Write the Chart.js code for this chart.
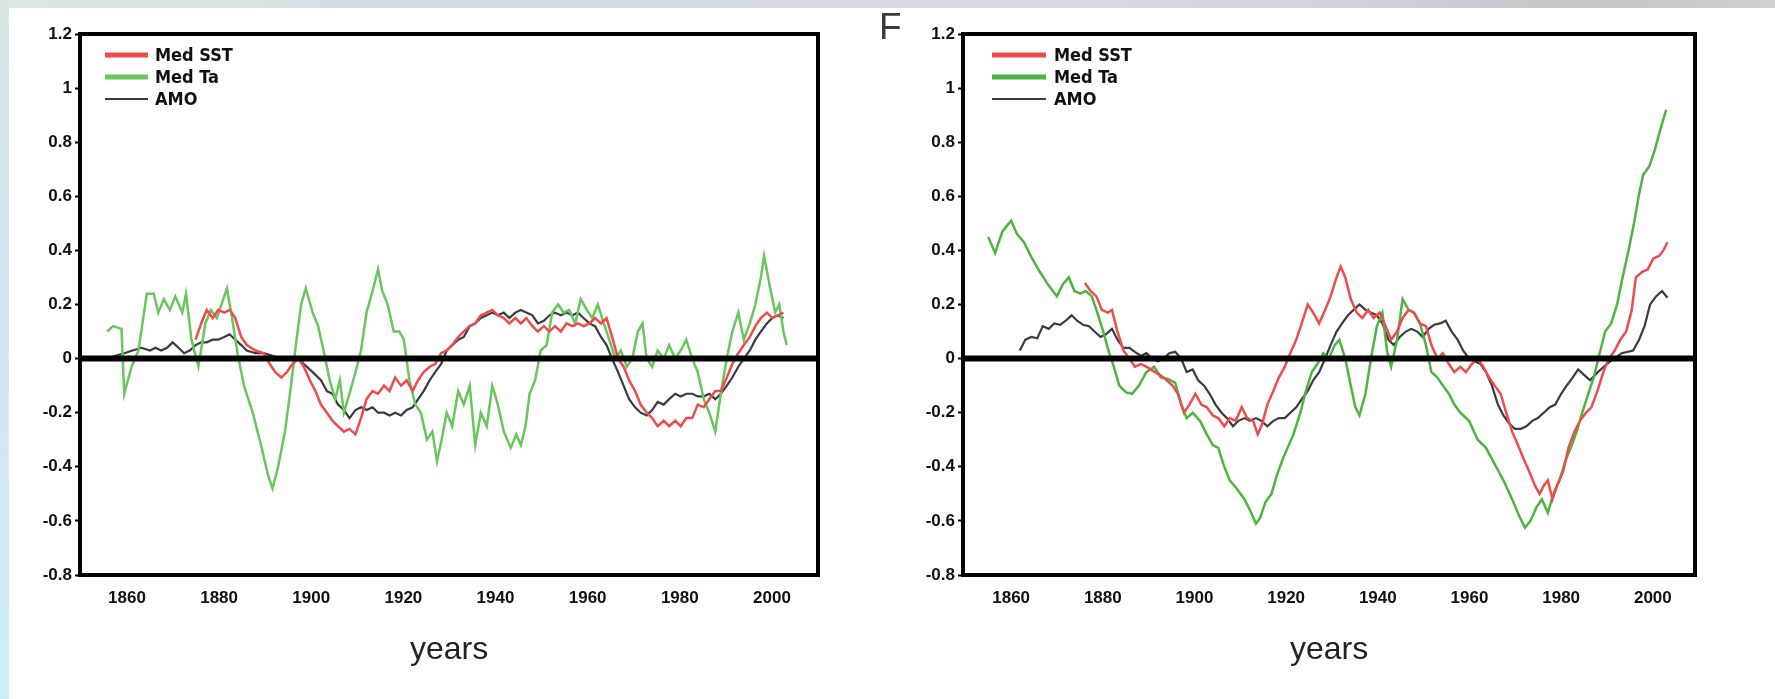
<!DOCTYPE html>
<html>
<head>
<meta charset="utf-8">
<script src="https://cdn.jsdelivr.net/npm/chart.js@4.4.1/dist/chart.umd.min.js"></script>
<style>
  html, body { margin: 0; padding: 0; background: #ffffff; }
  body { width: 1775px; height: 699px; position: relative; overflow: hidden; }
  #topband { position: absolute; left: 0; top: 0; width: 1775px; height: 8px;
    background: linear-gradient(to right, #dde8de 0%, #d3dbe6 25%, #d8dce8 55%, #cfd3dc 75%, #c3c7cb 90%, #cdd1d6 100%); }
  #leftband { position: absolute; left: 0; top: 0; width: 9px; height: 699px;
    background: linear-gradient(to bottom, #d9e7e4 0%, #d3e6ef 40%, #cdedf5 100%); }
  .wrap { position: absolute; top: 0; height: 699px; }
  #w1 { left: 0; width: 887px; }
  #w2 { left: 887px; width: 888px; }
  #flabel { position: absolute; left: 879px; top: 8px; font-family: "Liberation Sans", Arial, sans-serif;
    font-size: 37px; line-height: 1; color: #3a3a3a; }
</style>
</head>
<body>
<div id="topband"></div>
<div id="leftband"></div>
<div class="wrap" id="w1"><canvas id="c1" width="887" height="699"></canvas></div>
<div class="wrap" id="w2"><canvas id="c2" width="888" height="699"></canvas></div>
<div id="flabel">F</div>
<script>
// ---------------- DATA ----------------
const seriesLabels = ['Med SST', 'Med Ta', 'AMO'];
const xTickYears = [1860, 1880, 1900, 1920, 1940, 1960, 1980, 2000];
const yTickValues = [-0.8, -0.6, -0.4, -0.2, 0, 0.2, 0.4, 0.6, 0.8, 1, 1.2];
const yTickLabels = ['-0.8', '-0.6', '-0.4', '-0.2', '0', '0.2', '0.4', '0.6', '0.8', '1', '1.2'];

// Left panel
const leftSstYears = [1874.9,1876.1,1877.3,1878.6,1879.8,1881.1,1882.3,1883.5,1884.8,1886,1887.9,1889.7,1891,1892.2,1893.5,1894.7,1895.9,1897.2,1898.4,1899.7,1900.9,1902.1,1903.4,1904.6,1905.8,1907.1,1908.3,1909.6,1910.8,1912,1913.3,1914.5,1915.8,1917,1918.2,1919.5,1920.7,1922,1923.2,1924.4,1925.7,1926.9,1928.2,1929.4,1930.6,1931.9,1933.1,1934.4,1935.6,1936.8,1938.1,1939.3,1940.5,1941.8,1943,1944.3,1945.5,1946.7,1948,1949.2,1950.5,1951.7,1952.9,1954.2,1955.4,1956.7,1957.9,1959.1,1960.4,1961.6,1962.9,1964.1,1965.3,1966.6,1967.8,1969,1970.3,1971.5,1972.8,1974,1975.2,1976.5,1977.7,1979,1980.2,1981.4,1982.7,1983.9,1985.2,1986.4,1987.7,1988.9,1990.2,1991.4,1992.7,1993.9,1995.2,1996.4,1997.6,1998.9,2000.1,2001.3,2002.5];
const leftSstValues = [0.07,0.13,0.18,0.15,0.18,0.17,0.18,0.15,0.08,0.05,0.03,0.02,-0.02,-0.05,-0.07,-0.05,-0.02,0.00,-0.03,-0.08,-0.12,-0.17,-0.20,-0.23,-0.25,-0.27,-0.26,-0.28,-0.22,-0.15,-0.12,-0.13,-0.10,-0.12,-0.07,-0.10,-0.08,-0.12,-0.08,-0.05,-0.03,-0.02,0.02,0.03,0.05,0.08,0.10,0.12,0.13,0.16,0.17,0.18,0.16,0.15,0.13,0.15,0.13,0.15,0.12,0.10,0.12,0.10,0.12,0.10,0.13,0.12,0.13,0.12,0.13,0.15,0.13,0.15,0.08,0.00,-0.03,-0.08,-0.12,-0.17,-0.20,-0.22,-0.25,-0.23,-0.25,-0.23,-0.25,-0.22,-0.22,-0.17,-0.18,-0.15,-0.12,-0.12,-0.07,-0.02,0.02,0.05,0.08,0.12,0.15,0.17,0.15,0.16,0.17];

const leftTaYears = [1855.7,1857,1858.8,1859.4,1861,1862.5,1864.3,1865.8,1866.8,1868,1869.3,1870.5,1872,1872.8,1874,1875.5,1877,1878.2,1879.5,1880.7,1881.7,1883,1884,1885.4,1887.3,1889.1,1890.6,1891.6,1892.8,1894.3,1895.6,1896.8,1897.8,1898.8,1900.3,1901.5,1902.8,1904,1905.2,1906.2,1907.1,1908.3,1909.6,1910.8,1912,1913.3,1914.5,1915.4,1916.6,1917.9,1919.1,1920.1,1921.3,1922.6,1923.8,1925.1,1926.3,1927.3,1928.3,1929.4,1930.6,1931.9,1933.1,1934.4,1935.6,1936.8,1938.1,1939.3,1940.5,1941.8,1943.3,1944.5,1945.5,1946.5,1947.4,1948.6,1949.8,1951.1,1952.3,1953.6,1954.8,1956,1957.3,1958.5,1959.8,1961,1962.2,1963.5,1964.7,1966,1967.2,1968.5,1969.7,1970.9,1971.9,1972.8,1974,1975.2,1976.5,1977.7,1979,1980.2,1981.4,1982.7,1983.9,1985.2,1986.4,1987.7,1988.9,1990.2,1991.4,1992.7,1993.9,1995.2,1996.4,1997.6,1998.3,1999.5,2000.7,2001.6,2002.5,2003.2];
const leftTaValues = [0.10,0.12,0.11,-0.13,-0.03,0.03,0.24,0.24,0.17,0.22,0.18,0.23,0.17,0.24,0.07,-0.03,0.13,0.18,0.15,0.21,0.26,0.13,0.02,-0.10,-0.20,-0.32,-0.43,-0.48,-0.40,-0.27,-0.10,0.07,0.20,0.26,0.17,0.12,0.02,-0.08,-0.15,-0.08,-0.20,-0.13,-0.05,0.03,0.17,0.25,0.33,0.25,0.20,0.10,0.10,0.07,-0.08,-0.17,-0.20,-0.30,-0.27,-0.38,-0.30,-0.20,-0.25,-0.12,-0.17,-0.10,-0.32,-0.20,-0.25,-0.10,-0.17,-0.27,-0.33,-0.28,-0.32,-0.25,-0.13,-0.08,0.03,0.05,0.17,0.20,0.17,0.18,0.13,0.22,0.18,0.15,0.20,0.13,0.07,0.00,0.03,-0.03,0.00,0.10,0.13,0.00,-0.03,0.03,0.00,0.05,0.00,0.03,0.07,0.00,-0.05,-0.15,-0.20,-0.27,-0.13,0.00,0.10,0.17,0.07,0.13,0.20,0.30,0.38,0.27,0.17,0.20,0.10,0.05];

const leftAmoYears = [1855.7,1857.5,1859.4,1861.2,1863.1,1865,1866.2,1867.4,1868.7,1869.9,1871.2,1872.4,1873.6,1874.9,1876.1,1877.3,1878.6,1879.8,1881.1,1882.3,1883.5,1884.8,1886,1887.9,1889.7,1891.6,1893.5,1895.3,1897.2,1898.4,1900.3,1902.1,1903.4,1904.6,1905.8,1907.1,1908.3,1909.6,1910.8,1912,1913.3,1914.5,1915.8,1917,1918.2,1919.5,1920.7,1922,1923.2,1924.4,1925.7,1926.9,1928.2,1929.4,1930.6,1931.9,1933.1,1934.4,1935.6,1936.8,1938.1,1939.3,1940.5,1941.8,1943,1944.3,1945.5,1946.7,1948,1949.2,1950.5,1951.7,1952.9,1954.2,1955.4,1956.7,1957.9,1959.1,1960.4,1961.6,1962.9,1964.1,1965.3,1966.6,1967.8,1969,1970.3,1971.5,1972.8,1974,1975.2,1976.5,1977.7,1979,1980.2,1981.4,1982.7,1983.9,1985.2,1986.4,1987.7,1988.9,1990.2,1991.4,1992.7,1993.9,1995.2,1996.4,1997.6,1998.9,2000.1,2001.3,2002.5];
const leftAmoValues = [0.00,0.01,0.02,0.03,0.04,0.03,0.04,0.03,0.04,0.06,0.04,0.02,0.03,0.05,0.06,0.06,0.07,0.07,0.08,0.09,0.07,0.05,0.03,0.02,0.02,0.01,0.00,0.00,0.00,-0.02,-0.05,-0.08,-0.12,-0.13,-0.17,-0.19,-0.22,-0.19,-0.18,-0.19,-0.18,-0.20,-0.20,-0.21,-0.20,-0.21,-0.19,-0.18,-0.15,-0.12,-0.08,-0.05,-0.02,0.03,0.05,0.07,0.08,0.12,0.13,0.15,0.16,0.17,0.16,0.17,0.15,0.17,0.18,0.17,0.16,0.13,0.14,0.16,0.17,0.16,0.17,0.16,0.17,0.15,0.13,0.12,0.08,0.05,0.00,-0.05,-0.10,-0.15,-0.18,-0.20,-0.21,-0.19,-0.16,-0.17,-0.15,-0.13,-0.14,-0.13,-0.13,-0.14,-0.14,-0.13,-0.15,-0.13,-0.10,-0.07,-0.03,0.00,0.03,0.07,0.10,0.13,0.15,0.16,0.15];

// Right panel
const rightSstYears = [1876.1,1877.3,1878.6,1879.8,1881.1,1882,1883.2,1884.5,1885.8,1887,1888.3,1889.5,1891.4,1893.3,1895.2,1896.4,1897.7,1898.9,1900.2,1901.5,1902.7,1904,1905.2,1906.5,1907.7,1909,1910.3,1911.5,1912.8,1913.8,1914.8,1915.9,1917.2,1918.4,1919.7,1920.9,1922.2,1923.4,1924.7,1925.9,1927.2,1928.5,1929.7,1931,1931.9,1932.9,1934.1,1935.4,1936.6,1937.9,1939.1,1940.4,1941.7,1942.9,1944.2,1945.4,1946.7,1947.9,1949.2,1950.5,1951.7,1953,1954.2,1955.5,1956.7,1958,1959.2,1960.5,1961.8,1963,1964.3,1965.5,1966.8,1968,1969.3,1970.6,1971.8,1973.1,1974.3,1975.3,1976.2,1977.1,1978.1,1979.1,1980.4,1981.6,1982.9,1984.1,1985.4,1986.6,1987.9,1989.2,1990.4,1991.7,1992.9,1994.2,1995.4,1996.3,1997.6,1998.9,2000.1,2001.4,2002.3,2003.2];
const rightSstValues = [0.28,0.25,0.23,0.18,0.17,0.18,0.10,0.03,0.00,-0.03,-0.02,-0.03,-0.05,-0.07,-0.10,-0.13,-0.20,-0.17,-0.13,-0.17,-0.18,-0.21,-0.22,-0.25,-0.22,-0.23,-0.18,-0.22,-0.23,-0.28,-0.24,-0.17,-0.12,-0.07,-0.03,0.02,0.07,0.13,0.20,0.17,0.13,0.18,0.23,0.30,0.34,0.30,0.22,0.17,0.15,0.18,0.15,0.17,0.12,0.07,0.10,0.15,0.18,0.17,0.13,0.12,0.05,0.00,0.02,-0.02,-0.05,-0.03,-0.05,-0.02,0.00,-0.03,-0.07,-0.10,-0.13,-0.20,-0.27,-0.32,-0.37,-0.42,-0.47,-0.50,-0.47,-0.45,-0.52,-0.47,-0.42,-0.33,-0.27,-0.23,-0.20,-0.18,-0.12,-0.05,0.00,0.03,0.07,0.10,0.18,0.30,0.32,0.33,0.37,0.38,0.40,0.43];

const rightTaYears = [1855,1856.5,1858.1,1860,1861.3,1862.8,1864.4,1866.3,1868.2,1870,1871.3,1872.6,1873.8,1875.1,1876.3,1877.6,1878.8,1880.1,1881.4,1882.4,1883.6,1885.1,1886.4,1887.9,1889.5,1891.2,1892.7,1894.2,1895.8,1897.1,1898.3,1899.6,1901.2,1902.7,1904,1905.2,1906.5,1907.7,1909.2,1910.9,1912.1,1913.4,1914.3,1915.5,1916.8,1918,1919.3,1920.3,1921.6,1923.1,1924.3,1925.6,1926.8,1928.1,1929.3,1930.6,1931.6,1932.9,1934.1,1935.1,1936,1937.3,1938.5,1939.8,1941,1942,1942.9,1944.2,1945.4,1946.7,1947.9,1949.2,1950.5,1951.7,1953,1954.2,1955.5,1956.7,1958,1959.9,1961.8,1963.6,1965.5,1967.4,1969.3,1970.8,1972.1,1973.3,1974.6,1975.8,1977.1,1978.3,1979.6,1980.9,1982.1,1983.4,1984.6,1985.9,1987.1,1988.4,1989.6,1990.9,1992.2,1993.4,1994.7,1995.9,1996.9,1997.9,1999.2,2000.4,2001.7,2002.9];
const rightTaValues = [0.45,0.39,0.47,0.51,0.46,0.43,0.375,0.32,0.27,0.23,0.275,0.30,0.25,0.24,0.25,0.23,0.17,0.10,0.02,-0.03,-0.10,-0.125,-0.13,-0.10,-0.05,-0.03,-0.07,-0.075,-0.09,-0.17,-0.22,-0.20,-0.23,-0.28,-0.32,-0.33,-0.40,-0.45,-0.48,-0.52,-0.56,-0.61,-0.59,-0.53,-0.50,-0.43,-0.37,-0.33,-0.28,-0.20,-0.12,-0.05,-0.02,0.02,0.00,0.05,0.07,0.00,-0.10,-0.18,-0.21,-0.13,0.00,0.12,0.17,0.03,-0.03,0.07,0.22,0.18,0.17,0.13,0.05,-0.05,-0.07,-0.10,-0.13,-0.17,-0.20,-0.23,-0.30,-0.33,-0.39,-0.45,-0.52,-0.58,-0.625,-0.60,-0.55,-0.52,-0.57,-0.50,-0.45,-0.38,-0.33,-0.27,-0.20,-0.13,-0.07,0.02,0.10,0.13,0.20,0.30,0.40,0.50,0.60,0.68,0.71,0.77,0.85,0.92];

const rightAmoYears = [1861.9,1863.1,1864.4,1865.7,1866.9,1868.2,1869.4,1870.7,1871.9,1873.2,1874.4,1875.7,1877,1878.2,1879.5,1880.7,1882,1883.2,1884.5,1885.8,1887,1888.3,1889.5,1890.8,1892,1893.3,1894.5,1895.8,1897.1,1898.3,1899.6,1900.8,1902.1,1903.3,1904.6,1905.9,1907.1,1908.4,1909.6,1910.9,1912.1,1913.4,1914.6,1915.9,1917.2,1918.4,1919.7,1920.9,1922.2,1923.4,1924.7,1925.9,1927.2,1928.5,1929.7,1931,1932.2,1933.5,1934.7,1936,1937.3,1938.5,1939.8,1941,1942.3,1943.5,1944.8,1946.1,1947.3,1948.6,1949.8,1951.1,1952.3,1953.6,1954.8,1956.1,1957.4,1958.6,1959.9,1961.1,1962.4,1963.6,1964.9,1966.2,1967.4,1968.7,1969.9,1971.2,1972.4,1973.7,1974.9,1976.2,1977.5,1978.7,1980,1981.2,1982.5,1983.7,1985,1986.3,1988,1990,1991.5,1993.2,1995.7,1997,1998.2,1999.4,2000.7,2002,2003.2];
const rightAmoValues = [0.03,0.07,0.08,0.075,0.12,0.11,0.13,0.125,0.14,0.16,0.14,0.125,0.12,0.10,0.08,0.09,0.11,0.07,0.04,0.04,0.025,0.01,0.02,0.00,-0.01,0.00,0.02,0.025,0.00,-0.05,-0.04,-0.08,-0.10,-0.13,-0.17,-0.20,-0.22,-0.25,-0.23,-0.22,-0.23,-0.22,-0.23,-0.25,-0.23,-0.22,-0.22,-0.20,-0.18,-0.15,-0.12,-0.08,-0.05,0.00,0.05,0.10,0.13,0.16,0.18,0.20,0.18,0.17,0.16,0.13,0.07,0.05,0.08,0.10,0.11,0.10,0.08,0.11,0.125,0.13,0.14,0.10,0.07,0.03,0.00,-0.01,-0.02,-0.05,-0.10,-0.17,-0.21,-0.24,-0.26,-0.26,-0.25,-0.23,-0.22,-0.20,-0.18,-0.17,-0.13,-0.10,-0.07,-0.04,-0.06,-0.08,-0.05,-0.02,0.00,0.02,0.03,0.07,0.12,0.20,0.23,0.25,0.225];

// ---------------- RENDERING ----------------
function pts(xs, ys) {
  const n = Math.min(xs.length, ys.length);
  const out = [];
  for (let i = 0; i < n; i++) out.push({ x: xs[i], y: ys[i] });
  return out;
}

const framePlugin = {
  id: 'frame',
  afterDatasetsDraw(chart) {
    const { ctx, chartArea: a, scales: { y } } = chart;
    const y0 = y.getPixelForValue(0);
    ctx.save();
    ctx.strokeStyle = '#000';
    ctx.lineWidth = 6;
    ctx.beginPath();
    ctx.moveTo(a.left, y0);
    ctx.lineTo(a.right, y0);
    ctx.stroke();
    ctx.lineWidth = 4;
    ctx.strokeRect(a.left, a.top, a.right - a.left, a.bottom - a.top);
    ctx.restore();
  }
};

const legendPlugin = {
  id: 'inlegend',
  afterDraw(chart, args, opts) {
    const { ctx, chartArea: a } = chart;
    ctx.save();
    chart.data.datasets.forEach((ds, i) => {
      const yy = a.top + 21 + i * 22;
      ctx.strokeStyle = ds.borderColor;
      ctx.lineWidth = ds.legendWidth;
      ctx.beginPath();
      ctx.moveTo(a.left + opts.lineStart, yy);
      ctx.lineTo(a.left + opts.lineEnd, yy);
      ctx.stroke();
      ctx.fillStyle = '#111';
      ctx.font = 'bold 18px "Liberation Sans Narrow", "DejaVu Sans Condensed", Arial, sans-serif';
      ctx.textBaseline = 'middle';
      ctx.textAlign = 'left';
      ctx.fillText(ds.label, a.left + opts.textX, yy + 1);
    });
    ctx.restore();
  }
};

function makeChart(canvasId, sst, ta, amo, greenColor, yAxisWidth, rightPad, xMin, xMax, legendOpts) {
  const tickFont = { family: '"Liberation Sans", Arial, sans-serif', size: 17, weight: 'bold' };
  return new Chart(document.getElementById(canvasId), {
    type: 'line',
    data: {
      datasets: [
        { label: seriesLabels[0], data: sst, borderColor: 'rgb(238,76,76)', borderWidth: 2.5, legendWidth: 5 },
        { label: seriesLabels[1], data: ta, borderColor: greenColor, borderWidth: 2.5, legendWidth: 5 },
        { label: seriesLabels[2], data: amo, borderColor: 'rgb(58,58,68)', borderWidth: 2.2, legendWidth: 2 }
      ]
    },
    options: {
      responsive: false,
      animation: false,
      events: [],
      layout: { padding: { left: 0, top: 34, right: rightPad, bottom: 0 } },
      elements: { point: { radius: 0 }, line: { tension: 0, fill: false } },
      plugins: { legend: { display: false }, tooltip: { enabled: false }, inlegend: legendOpts },
      scales: {
        x: {
          type: 'linear',
          min: xMin,
          max: xMax,
          border: { display: false },
          grid: { display: false, drawTicks: false },
          afterBuildTicks: (s) => { s.ticks = xTickYears.map(v => ({ value: v })); },
          afterFit: (s) => { s.height = 124; },
          ticks: {
            autoSkip: false, maxRotation: 0, padding: 13, color: '#111', font: tickFont,
            callback: (v) => String(v)
          },
          title: {
            display: true, text: 'years', color: '#222',
            font: { family: '"Liberation Sans", Arial, sans-serif', size: 32 },
            padding: { top: 0, bottom: 30 }
          }
        },
        y: {
          min: -0.8,
          max: 1.2,
          border: { display: false },
          grid: { display: true, drawOnChartArea: false, drawTicks: true, tickLength: 5, tickColor: '#000', tickWidth: 2 },
          afterBuildTicks: (s) => { s.ticks = yTickValues.map(v => ({ value: v })); },
          afterFit: (s) => { s.width = yAxisWidth; },
          ticks: {
            padding: 3, color: '#111', font: tickFont,
            callback: (v) => {
              const idx = yTickValues.findIndex(t => Math.abs(t - v) < 1e-6);
              return idx >= 0 ? yTickLabels[idx] : '';
            }
          }
        }
      }
    },
    plugins: [framePlugin, legendPlugin]
  });
}

makeChart('c1', pts(leftSstYears, leftSstValues), pts(leftTaYears, leftTaValues), pts(leftAmoYears, leftAmoValues),
  'rgb(104,198,92)', 80, 69, 1849.8, 2010, { lineStart: 25, lineEnd: 68, textX: 75 });
makeChart('c2', pts(rightSstYears, rightSstValues), pts(rightTaYears, rightTaValues), pts(rightAmoYears, rightAmoValues),
  'rgb(78,180,64)', 76, 80, 1849.5, 2009.2, { lineStart: 29, lineEnd: 83, textX: 91 });
</script>
</body>
</html>
